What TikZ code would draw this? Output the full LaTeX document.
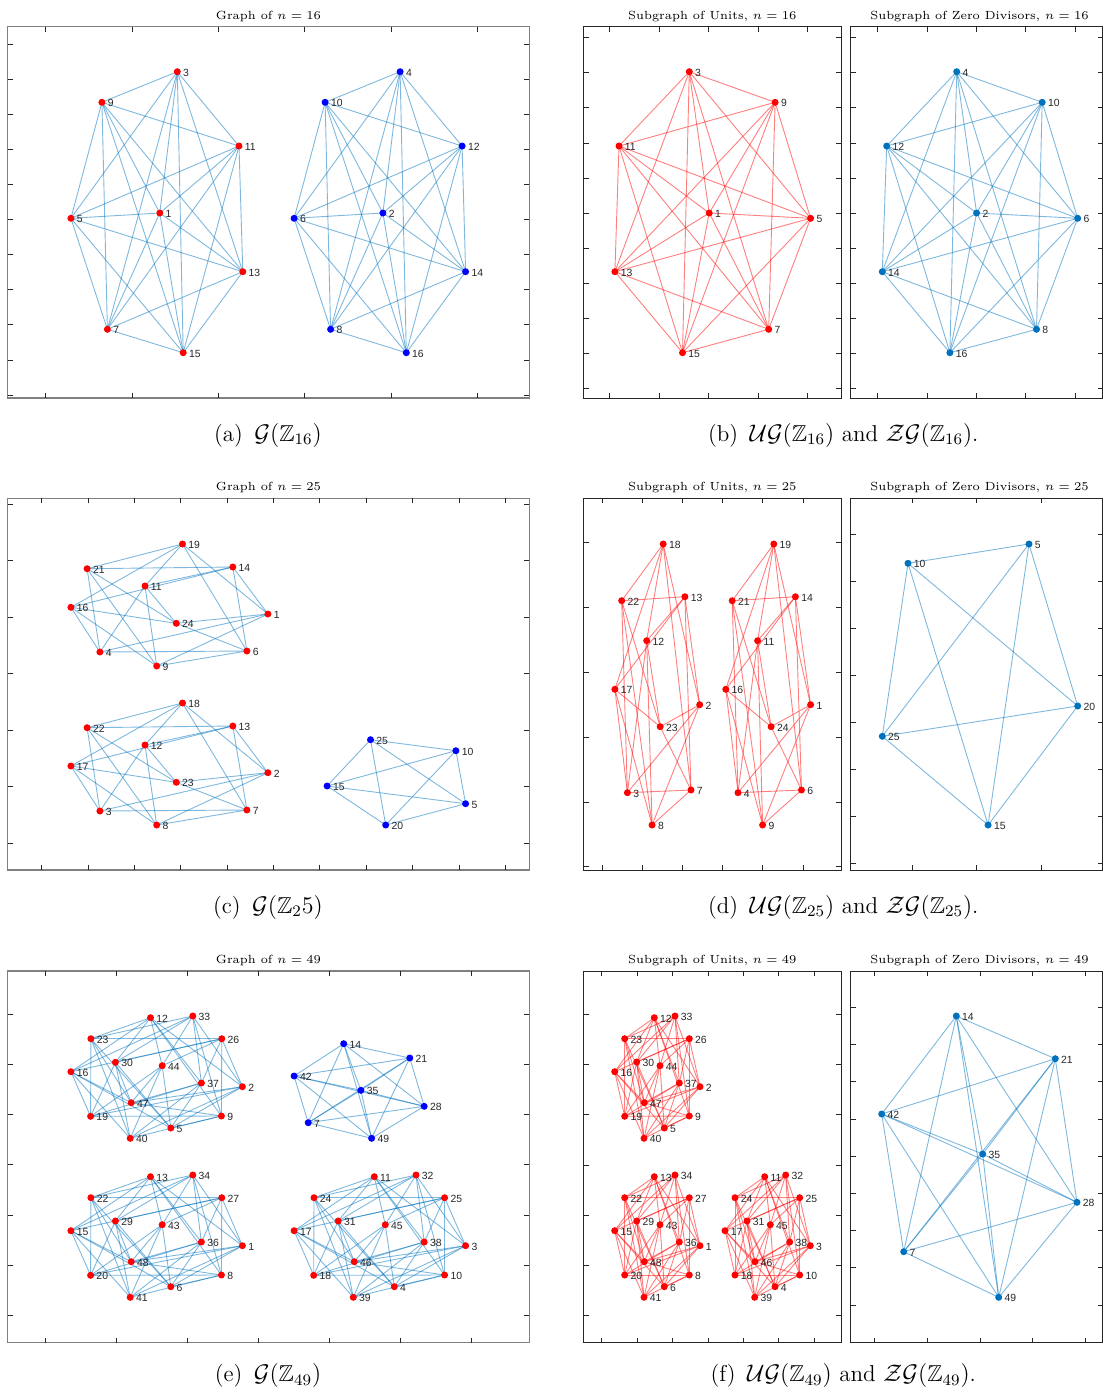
\documentclass[tikz,border=0pt]{standalone}
\usepackage{amssymb}
\usepackage{fontspec}
\newfontfamily\lblfont{Liberation Sans}
\pgfdeclarelayer{bg}
\pgfsetlayers{bg,main}
\definecolor{mblue}{RGB}{0,114,189}
\definecolor{axc}{RGB}{38,38,38}
\tikzset{
  dotr/.style={circle,fill=red,inner sep=0,minimum size=3.5pt},
  dotb/.style={circle,fill=blue,inner sep=0,minimum size=3.5pt},
  dotm/.style={circle,fill=mblue,inner sep=0,minimum size=3.5pt},
  lbl/.style={anchor=west,inner sep=0,font=\lblfont\fontsize{5.2}{6}\selectfont,text=axc},
  eb/.style={draw=mblue,draw opacity=0.5,line width=0.45pt},
  er/.style={draw=red,draw opacity=0.5,line width=0.45pt},
  frameL/.style={draw=black!50,line width=0.65pt},
  frameR/.style={draw=axc,line width=0.5pt},
  tickmark/.style={draw=axc,line width=0.4pt},
  ttl/.style={font=\fontsize{5.9}{7}\selectfont,inner sep=0,anchor=base},
  captxt/.style={font=\fontsize{11.5}{13}\selectfont,inner sep=0,anchor=base},
}
\newcommand\vtx[5]{\node[#5] (#1) at (#2,#3) {};\node[lbl] (#1l) at (#2+5.5,#3+0.8) {#4};}
\newcommand\kgraph[3]{\foreach \u [count=\i] in {#2}{\foreach \v [count=\j] in {#2}{\ifnum\i<\j\relax\draw[#3] (#1\u.center) -- (#1\v.center);\fi}}}
\newcommand\bgraph[4]{\foreach \u in {#2}{\foreach \v in {#3}{\draw[#4] (#1\u.center) -- (#1\v.center);}}}
\newcommand\axbox[7]{%
  \draw[#7] (#1,#2) rectangle (#3,#4);
  \foreach \t in {#5}{\draw[tickmark] (\t,#2) -- ++(0,5);\draw[tickmark] (\t,#4) -- ++(0,-5);}
  \foreach \t in {#6}{\draw[tickmark] (#1,\t) -- ++(5,0);\draw[tickmark] (#3,\t) -- ++(-5,0);}
}
\begin{document}
\begin{tikzpicture}[x=0.5pt,y={(0pt,-0.5pt)}]
\useasboundingbox (0,0) rectangle (1104,1389);
% ---------------- frames ----------------
\axbox{7.6}{26.7}{529.3}{398}{45.5,131.9,218.2,304.6,390.9,477.3}{44,79.1,114.2,149.3,184.4,219.5,254.6,289.7,324.8,359.9,395}{frameL}
\axbox{583.5}{26.7}{841}{398}{609.8,659.3,708.7,758.2,807.6}{37.7,72.8,107.8,142.9,177.9,213,248,283.1,318.1,353.2,388.2}{frameR}
\axbox{850.9}{26.7}{1102.8}{398}{877.6,927,976.3,1025.7,1075}{37.7,72.8,107.8,142.9,177.9,213,248,283.1,318.1,353.2,388.2}{frameR}
\axbox{7.6}{498.3}{529.3}{870}{41.7,88.1,134.4,180.8,227.1,273.5,319.8,366.2,412.5,458.9,505.2}{504.3,560.8,617.3,673.8,730.3,786.8,843.3}{frameL}
\axbox{583.5}{498.3}{841}{870}{602,642.2,682.4,722.6,762.8,803}{542.7,607.5,672.3,737.1,801.9,866.7}{frameR}
\axbox{850.9}{498.3}{1102.8}{870}{912.1,976.8,1041.5}{534,581,628,675,722,769,816,863}{frameR}
\axbox{7.6}{971}{529.3}{1342.5}{45.8,116.7,187.6,258.5,329.4,400.3,471.2}{1014.3,1064.5,1114.6,1164.8,1215,1265.1,1315.3}{frameL}
\axbox{583.5}{971}{841}{1342.5}{601.7,637.1,672.5,707.9,743.3,778.7,814.1}{1014.3,1064.5,1114.7,1164.9,1215.1,1265.3,1315.5}{frameR}
\axbox{850.9}{971}{1102.8}{1342.5}{874.3,927.1,980,1032.8,1085.7}{1007.3,1044.5,1081.7,1118.9,1156.1,1193.3,1230.5,1267.7,1304.9}{frameR}
% ---------------- titles ----------------
\node[ttl] (ta) at (268.5,19) {Graph of $n = 16$};
\node[ttl] (tbu) at (712.3,19) {Subgraph of Units, $n = 16$};
\node[ttl] (tbz) at (979.5,19) {Subgraph of Zero Divisors, $n = 16$};
\node[ttl] (tc) at (268.5,490.6) {Graph of $n = 25$};
\node[ttl] (tdu) at (712.3,490.6) {Subgraph of Units, $n = 25$};
\node[ttl] (tdz) at (979.5,490.6) {Subgraph of Zero Divisors, $n = 25$};
\node[ttl] (te) at (268.5,963.3) {Graph of $n = 49$};
\node[ttl] (tfu) at (712.3,963.3) {Subgraph of Units, $n = 49$};
\node[ttl] (tfz) at (979.5,963.3) {Subgraph of Zero Divisors, $n = 49$};
% ---------------- captions ----------------
\node[captxt] (ca) at (268,441) {(a)\hspace{0.5em}$\mathcal{G}(\mathbb{Z}_{16})$};
\node[captxt] (cb) at (843.3,441) {(b)\hspace{0.5em}$\mathcal{UG}(\mathbb{Z}_{16})$ and $\mathcal{ZG}(\mathbb{Z}_{16})$.};
\node[captxt] (cc) at (268,913) {(c)\hspace{0.5em}$\mathcal{G}(\mathbb{Z}_25)$};
\node[captxt] (cd) at (843.3,913) {(d)\hspace{0.5em}$\mathcal{UG}(\mathbb{Z}_{25})$ and $\mathcal{ZG}(\mathbb{Z}_{25})$.};
\node[captxt] (ce) at (268,1381.5) {(e)\hspace{0.5em}$\mathcal{G}(\mathbb{Z}_{49})$};
\node[captxt] (cf) at (843.3,1381.5) {(f)\hspace{0.5em}$\mathcal{UG}(\mathbb{Z}_{49})$ and $\mathcal{ZG}(\mathbb{Z}_{49})$.};
% ---------------- panel (a) ----------------
\vtx{a3}{177.3}{71.7}{3}{dotr}
\vtx{a9}{101.9}{102.3}{9}{dotr}
\vtx{a11}{239}{146}{11}{dotr}
\vtx{a5}{70.9}{218.3}{5}{dotr}
\vtx{a1}{159.8}{213}{1}{dotr}
\vtx{a13}{242.8}{271.7}{13}{dotr}
\vtx{a7}{107.4}{329.3}{7}{dotr}
\vtx{a15}{183.2}{352.7}{15}{dotr}
\vtx{a4}{400.1}{71.7}{4}{dotb}
\vtx{a10}{325.1}{102.3}{10}{dotb}
\vtx{a12}{462.1}{146}{12}{dotb}
\vtx{a6}{294.1}{218.3}{6}{dotb}
\vtx{a2}{382.9}{213}{2}{dotb}
\vtx{a14}{465.6}{271.7}{14}{dotb}
\vtx{a8}{330.6}{329.3}{8}{dotb}
\vtx{a16}{406.3}{352.7}{16}{dotb}
% ---------------- panel (b) ----------------
\vtx{bu3}{689.3}{71.7}{3}{dotr}
\vtx{bu9}{775.1}{102.3}{9}{dotr}
\vtx{bu11}{619}{146}{11}{dotr}
\vtx{bu1}{709.2}{213}{1}{dotr}
\vtx{bu5}{810.6}{218.3}{5}{dotr}
\vtx{bu13}{614.9}{271.7}{13}{dotr}
\vtx{bu7}{768.7}{329.3}{7}{dotr}
\vtx{bu15}{682.5}{352.7}{15}{dotr}
\vtx{bz4}{956.7}{71.7}{4}{dotm}
\vtx{bz10}{1042.2}{102.3}{10}{dotm}
\vtx{bz12}{886.7}{146}{12}{dotm}
\vtx{bz2}{976.6}{213}{2}{dotm}
\vtx{bz6}{1077.7}{218.3}{6}{dotm}
\vtx{bz14}{882.3}{271.7}{14}{dotm}
\vtx{bz8}{1036.5}{329.3}{8}{dotm}
\vtx{bz16}{949.9}{352.7}{16}{dotm}
% ---------------- panel (c) ----------------
\vtx{c19}{182.5}{544}{19}{dotr}
\vtx{c21}{87.1}{568.7}{21}{dotr}
\vtx{c14}{232.8}{567}{14}{dotr}
\vtx{c11}{145}{586}{11}{dotr}
\vtx{c16}{70.9}{607.3}{16}{dotr}
\vtx{c1}{267.9}{614}{1}{dotr}
\vtx{c24}{176.3}{623.3}{24}{dotr}
\vtx{c4}{99.9}{652}{4}{dotr}
\vtx{c6}{246.9}{651}{6}{dotr}
\vtx{c9}{156.7}{666}{9}{dotr}
\vtx{c18}{182.5}{703}{18}{dotr}
\vtx{c22}{87.1}{727.7}{22}{dotr}
\vtx{c13}{232.8}{726}{13}{dotr}
\vtx{c12}{145}{745}{12}{dotr}
\vtx{c17}{70.9}{766}{17}{dotr}
\vtx{c2}{267.9}{772.7}{2}{dotr}
\vtx{c23}{176.3}{782.3}{23}{dotr}
\vtx{c3}{99.9}{811}{3}{dotr}
\vtx{c7}{246.9}{810}{7}{dotr}
\vtx{c8}{156.7}{825}{8}{dotr}
\vtx{c25}{370.5}{739.7}{25}{dotb}
\vtx{c10}{455.9}{750.7}{10}{dotb}
\vtx{c15}{327.1}{786}{15}{dotb}
\vtx{c5}{465.6}{803.7}{5}{dotb}
\vtx{c20}{385.7}{825}{20}{dotb}
% ---------------- panel (d) ----------------
\vtx{du18}{663.2}{544}{18}{dotr}
\vtx{du22}{621.7}{600.7}{22}{dotr}
\vtx{du13}{684.9}{596.7}{13}{dotr}
\vtx{du12}{646.7}{640.7}{12}{dotr}
\vtx{du17}{614.9}{689.3}{17}{dotr}
\vtx{du2}{699.7}{704.7}{2}{dotr}
\vtx{du23}{660.2}{726.7}{23}{dotr}
\vtx{du3}{627.4}{792.7}{3}{dotr}
\vtx{du7}{691}{790}{7}{dotr}
\vtx{du8}{652.1}{825}{8}{dotr}
\vtx{du19}{773.8}{544}{19}{dotr}
\vtx{du21}{732.2}{600.7}{21}{dotr}
\vtx{du14}{795.4}{596.7}{14}{dotr}
\vtx{du11}{757.6}{640.7}{11}{dotr}
\vtx{du16}{725.8}{689.3}{16}{dotr}
\vtx{du1}{810.6}{704.7}{1}{dotr}
\vtx{du24}{771.1}{726.7}{24}{dotr}
\vtx{du4}{738}{792.7}{4}{dotr}
\vtx{du6}{801.5}{790}{6}{dotr}
\vtx{du9}{762.6}{825}{9}{dotr}
\vtx{dz5}{1029}{544}{5}{dotm}
\vtx{dz10}{908}{563.3}{10}{dotm}
\vtx{dz20}{1077.7}{706}{20}{dotm}
\vtx{dz25}{882.3}{736.3}{25}{dotm}
\vtx{dz15}{988.1}{825}{15}{dotm}
% ---------------- panel (e) ----------------
\vtx{e12}{150.5}{1017.7}{12}{dotr}
\vtx{e33}{192.8}{1016}{33}{dotr}
\vtx{e23}{90.9}{1038.7}{23}{dotr}
\vtx{e26}{221.8}{1038.7}{26}{dotr}
\vtx{e30}{115.4}{1062.3}{30}{dotr}
\vtx{e44}{162.2}{1065.7}{44}{dotr}
\vtx{e16}{70.9}{1071.7}{16}{dotr}
\vtx{e37}{201.4}{1083}{37}{dotr}
\vtx{e2}{242.4}{1086.7}{2}{dotr}
\vtx{e47}{131.2}{1102.7}{47}{dotr}
\vtx{e19}{90.6}{1116.3}{19}{dotr}
\vtx{e9}{221.4}{1116}{9}{dotr}
\vtx{e5}{170.8}{1128}{5}{dotr}
\vtx{e40}{130.2}{1138.3}{40}{dotr}
\vtx{e13}{150.5}{1176.7}{13}{dotr}
\vtx{e34}{192.8}{1175}{34}{dotr}
\vtx{e22}{90.9}{1197.7}{22}{dotr}
\vtx{e27}{221.8}{1197.7}{27}{dotr}
\vtx{e29}{115.4}{1221}{29}{dotr}
\vtx{e43}{162.2}{1224.7}{43}{dotr}
\vtx{e15}{70.9}{1230.7}{15}{dotr}
\vtx{e36}{201.4}{1242}{36}{dotr}
\vtx{e1}{242.4}{1245.7}{1}{dotr}
\vtx{e48}{131.2}{1261.7}{48}{dotr}
\vtx{e20}{90.6}{1275.3}{20}{dotr}
\vtx{e8}{221.4}{1275}{8}{dotr}
\vtx{e6}{170.8}{1286.7}{6}{dotr}
\vtx{e41}{130.2}{1297.3}{41}{dotr}
\vtx{e11}{374.3}{1176.7}{11}{dotr}
\vtx{e32}{416}{1175}{32}{dotr}
\vtx{e24}{314}{1197.7}{24}{dotr}
\vtx{e25}{444.6}{1197.7}{25}{dotr}
\vtx{e31}{338.2}{1221}{31}{dotr}
\vtx{e45}{385.3}{1224.7}{45}{dotr}
\vtx{e17}{294.1}{1230.7}{17}{dotr}
\vtx{e38}{424.2}{1242}{38}{dotr}
\vtx{e3}{465.6}{1245.7}{3}{dotr}
\vtx{e46}{354.3}{1261.7}{46}{dotr}
\vtx{e18}{313.7}{1275.3}{18}{dotr}
\vtx{e10}{444.6}{1275}{10}{dotr}
\vtx{e4}{394.3}{1286.7}{4}{dotr}
\vtx{e39}{353.3}{1297.3}{39}{dotr}
\vtx{e14}{343.7}{1043.7}{14}{dotb}
\vtx{e21}{409.8}{1058}{21}{dotb}
\vtx{e42}{294.1}{1076}{42}{dotb}
\vtx{e35}{360.9}{1090.3}{35}{dotb}
\vtx{e28}{424.2}{1106.3}{28}{dotb}
\vtx{e7}{308.2}{1122.7}{7}{dotb}
\vtx{e49}{371.6}{1138.3}{49}{dotb}
% ---------------- panel (f) ----------------
\vtx{fu12}{654.3}{1017.7}{12}{dotr}
\vtx{fu33}{675}{1016}{33}{dotr}
\vtx{fu23}{624.7}{1038.7}{23}{dotr}
\vtx{fu26}{689.3}{1038.7}{26}{dotr}
\vtx{fu30}{636.7}{1062}{30}{dotr}
\vtx{fu44}{660}{1065.7}{44}{dotr}
\vtx{fu16}{614.7}{1071.7}{16}{dotr}
\vtx{fu37}{679.3}{1083}{37}{dotr}
\vtx{fu2}{700}{1086.7}{2}{dotr}
\vtx{fu47}{644.3}{1102.7}{47}{dotr}
\vtx{fu19}{624.7}{1116.3}{19}{dotr}
\vtx{fu9}{689.3}{1116}{9}{dotr}
\vtx{fu5}{664.3}{1128}{5}{dotr}
\vtx{fu40}{644}{1138.3}{40}{dotr}
\vtx{fu13}{654.3}{1176.7}{13}{dotr}
\vtx{fu34}{675}{1175}{34}{dotr}
\vtx{fu22}{624.7}{1197.7}{22}{dotr}
\vtx{fu27}{689.3}{1197.7}{27}{dotr}
\vtx{fu29}{636.7}{1221}{29}{dotr}
\vtx{fu43}{660}{1224.7}{43}{dotr}
\vtx{fu15}{614.7}{1230.7}{15}{dotr}
\vtx{fu36}{679.3}{1242}{36}{dotr}
\vtx{fu1}{700}{1245.7}{1}{dotr}
\vtx{fu48}{644.3}{1261.7}{48}{dotr}
\vtx{fu20}{624.7}{1275}{20}{dotr}
\vtx{fu8}{689.3}{1275}{8}{dotr}
\vtx{fu6}{664.3}{1286.7}{6}{dotr}
\vtx{fu41}{644}{1297.3}{41}{dotr}
\vtx{fu11}{764.7}{1176.7}{11}{dotr}
\vtx{fu32}{785.7}{1175}{32}{dotr}
\vtx{fu24}{735}{1197.7}{24}{dotr}
\vtx{fu25}{799.7}{1197.7}{25}{dotr}
\vtx{fu31}{747}{1221}{31}{dotr}
\vtx{fu45}{770.3}{1224.7}{45}{dotr}
\vtx{fu17}{725}{1230.7}{17}{dotr}
\vtx{fu38}{789.7}{1242}{38}{dotr}
\vtx{fu3}{810.3}{1245.7}{3}{dotr}
\vtx{fu46}{755}{1261.7}{46}{dotr}
\vtx{fu18}{735}{1275}{18}{dotr}
\vtx{fu10}{799.7}{1275}{10}{dotr}
\vtx{fu4}{775}{1286.7}{4}{dotr}
\vtx{fu39}{754.7}{1297.3}{39}{dotr}
\vtx{fz14}{956.3}{1016}{14}{dotm}
\vtx{fz21}{1055.3}{1058.7}{21}{dotm}
\vtx{fz42}{881.7}{1114}{42}{dotm}
\vtx{fz35}{982.7}{1154}{35}{dotm}
\vtx{fz28}{1077}{1202.3}{28}{dotm}
\vtx{fz7}{903.7}{1251.7}{7}{dotm}
\vtx{fz49}{998.7}{1297.3}{49}{dotm}
% ---------------- edges ----------------
\begin{pgfonlayer}{bg}
\kgraph{a}{1,3,5,7,9,11,13,15}{eb}
\kgraph{a}{2,4,6,8,10,12,14,16}{eb}
\kgraph{bu}{1,3,5,7,9,11,13,15}{er}
\kgraph{bz}{2,4,6,8,10,12,14,16}{eb}
\bgraph{c}{1,6,11,16,21}{4,9,14,19,24}{eb}
\bgraph{c}{2,7,12,17,22}{3,8,13,18,23}{eb}
\kgraph{c}{5,10,15,20,25}{eb}
\bgraph{du}{1,6,11,16,21}{4,9,14,19,24}{er}
\bgraph{du}{2,7,12,17,22}{3,8,13,18,23}{er}
\kgraph{dz}{5,10,15,20,25}{eb}
\bgraph{e}{2,9,16,23,30,37,44}{5,12,19,26,33,40,47}{eb}
\bgraph{e}{1,8,15,22,29,36,43}{6,13,20,27,34,41,48}{eb}
\bgraph{e}{3,10,17,24,31,38,45}{4,11,18,25,32,39,46}{eb}
\kgraph{e}{7,14,21,28,35,42,49}{eb}
\bgraph{fu}{2,9,16,23,30,37,44}{5,12,19,26,33,40,47}{er}
\bgraph{fu}{1,8,15,22,29,36,43}{6,13,20,27,34,41,48}{er}
\bgraph{fu}{3,10,17,24,31,38,45}{4,11,18,25,32,39,46}{er}
\kgraph{fz}{7,14,21,28,35,42,49}{eb}
\end{pgfonlayer}
\end{tikzpicture}
\end{document}
